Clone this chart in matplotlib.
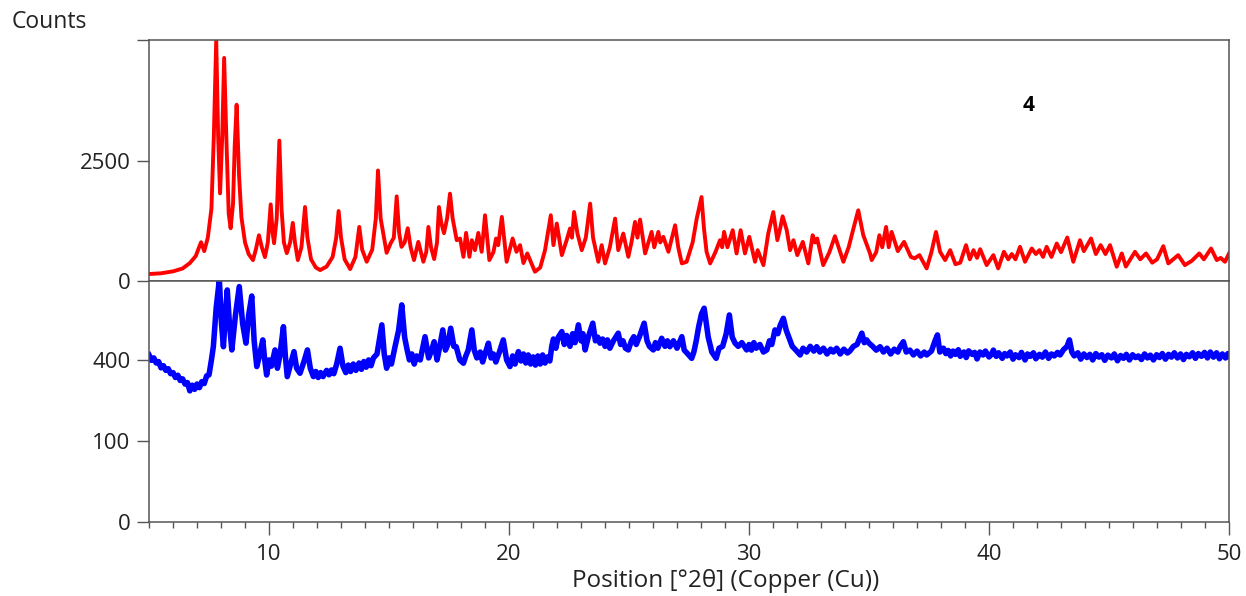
import numpy as np
import matplotlib
matplotlib.use("Agg")
import matplotlib.pyplot as plt
from matplotlib.ticker import MultipleLocator, FixedLocator

plt.rcParams['font.family'] = ['Open Sans', 'DejaVu Sans']

# simulated pattern (red), linear counts
red_pos = [5.0, 5.5, 6.0, 6.4, 6.7, 6.95, 7.1, 7.17, 7.3, 7.45, 7.6, 7.7, 7.8, 7.88, 7.96,
           8.05, 8.13, 8.22, 8.32, 8.4, 8.5, 8.57, 8.65, 8.75, 8.85, 9.0, 9.15, 9.33, 9.45,
           9.58, 9.7, 9.83, 9.95, 10.07, 10.15, 10.21, 10.32, 10.43, 10.52, 10.62, 10.74,
           10.88, 10.99, 11.08, 11.2, 11.35, 11.5, 11.6, 11.75, 11.95, 12.13, 12.4, 12.65,
           12.8, 12.9, 13.0, 13.15, 13.38, 13.6, 13.76, 13.88, 14.07, 14.3, 14.45, 14.54,
           14.65, 14.9, 15.07, 15.2, 15.32, 15.42, 15.52, 15.65, 15.78, 15.9, 16.04, 16.22,
           16.43, 16.55, 16.64, 16.75, 16.88, 17.0, 17.08, 17.18, 17.29, 17.42, 17.54, 17.65,
           17.82, 17.96, 18.1, 18.21, 18.35, 18.45, 18.58, 18.72, 18.86, 19.0, 19.18, 19.35,
           19.46, 19.55, 19.7, 19.9, 20.15, 20.31, 20.46, 20.6, 20.76, 21.08, 21.3, 21.5,
           21.74, 21.85, 21.99, 22.2, 22.4, 22.54, 22.62, 22.71, 22.85, 23.03, 23.2, 23.38,
           23.5, 23.72, 23.86, 24.0, 24.2, 24.42, 24.55, 24.76, 24.97, 25.1, 25.25, 25.35,
           25.46, 25.67, 25.94, 26.05, 26.22, 26.3, 26.43, 26.64, 26.92, 27.05, 27.2, 27.4,
           27.65, 27.82, 28.02, 28.12, 28.23, 28.38, 28.6, 28.79, 28.88, 28.96, 29.1, 29.32,
           29.48, 29.65, 29.83, 30.01, 30.25, 30.36, 30.6, 30.8, 31.01, 31.18, 31.3, 31.4,
           31.57, 31.71, 31.85, 32.01, 32.24, 32.47, 32.65, 32.75, 32.84, 33.09, 33.35, 33.58,
           33.93, 34.15, 34.35, 34.55, 34.76, 35.04, 35.11, 35.3, 35.43, 35.55, 35.71, 35.82,
           35.94, 36.2, 36.46, 36.74, 36.9, 37.1, 37.4, 37.6, 37.79, 37.96, 38.17, 38.38,
           38.6, 38.8, 39.04, 39.2, 39.35, 39.5, 39.63, 39.9, 40.18, 40.38, 40.62, 40.8,
           40.95, 41.1, 41.29, 41.5, 41.78, 41.95, 42.1, 42.25, 42.4, 42.6, 42.82, 43.0,
           43.26, 43.51, 43.79, 43.95, 44.25, 44.45, 44.65, 44.85, 45.04, 45.32, 45.53, 45.7,
           46.08, 46.3, 46.54, 46.8, 47.0, 47.26, 47.47, 47.88, 48.16, 48.45, 48.76, 48.95,
           49.25, 49.49, 49.65, 49.83, 50.0]
red_cnt = [145, 160, 200, 260, 372, 520, 720, 805, 620, 900, 1500, 3000, 5000, 3000, 1818,
           3000, 4628, 3000, 1400, 1095, 1600, 2800, 3657, 2200, 1322, 800, 560, 434, 650,
           950, 700, 496, 800, 1590, 1000, 785, 1300, 2913, 1500, 800, 578,
           800, 1205, 800, 434, 700, 1535, 900, 450, 280, 227, 300, 500,
           900, 1452, 900, 450, 248, 500, 1122, 650, 400, 650, 1300, 2293,
           1300, 585, 785, 900, 1756, 1000, 709, 800, 1095, 700, 434, 812,
           400, 600, 1122, 700, 455, 800, 1535, 1200, 992, 1300, 1812, 1300,
           847, 882, 502, 998, 502, 847, 640, 998, 606, 1364, 434, 600,
           882, 744, 1330, 399, 882, 606, 744, 372, 572, 193, 280, 640,
           1364, 744, 1192, 537, 847, 1089, 900, 1432, 985, 640, 900, 1605,
           900, 399, 744, 365, 700, 1295, 640, 985, 502, 800, 1226, 900,
           1274, 572, 1019, 700, 1019, 800, 916, 606, 1157, 700, 365, 400,
           800, 1295, 1742, 1100, 606, 365, 600, 847, 700, 1019, 700, 1054,
           572, 1054, 572, 916, 399, 640, 330, 985, 1432, 847, 1100, 1343,
           1054, 640, 847, 537, 812, 365, 950, 800, 882, 330, 600, 930,
           399, 700, 1089, 1467, 950, 572, 434, 600, 950, 700, 1122, 700,
           1019, 620, 812, 502, 470, 537, 262, 600, 1019, 606, 434, 640,
           350, 380, 744, 450, 640, 480, 660, 330, 537, 262, 606, 450,
           560, 450, 709, 399, 675, 560, 640, 500, 709, 500, 778, 600,
           902, 399, 847, 620, 882, 560, 744, 560, 744, 296, 572, 300,
           606, 450, 572, 380, 450, 723, 365, 537, 330, 420, 572, 450,
           675, 434, 480, 399, 572]

# measured pattern (blue), square-root counts axis
blue_pos = [5.0, 5.1, 5.2, 5.3, 5.4, 5.5, 5.6, 5.7, 5.8, 5.9, 6.0, 6.1, 6.2, 6.3, 6.4, 6.5,
            6.6, 6.7, 6.8, 6.9, 7.0, 7.1, 7.2, 7.3, 7.4, 7.5, 7.6, 7.68, 7.8, 7.93, 8.02,
            8.1, 8.18, 8.26, 8.35, 8.45, 8.6, 8.76, 8.9, 9.04, 9.15, 9.28, 9.38, 9.49, 9.6,
            9.74, 9.82, 9.9, 10.0, 10.1, 10.25, 10.35, 10.45, 10.6, 10.68, 10.76, 10.9,
            11.04, 11.15, 11.29, 11.45, 11.6, 11.72, 11.85, 11.95, 12.05, 12.15, 12.25, 12.4,
            12.5, 12.6, 12.7, 12.82, 12.96, 13.08, 13.2, 13.3, 13.4, 13.51, 13.62, 13.75,
            13.85, 13.95, 14.05, 14.15, 14.25, 14.35, 14.5, 14.7, 14.8, 14.9, 15.0, 15.1,
            15.25, 15.4, 15.53, 15.65, 15.74, 15.85, 15.95, 16.05, 16.15, 16.3, 16.5, 16.65,
            16.75, 16.88, 17.0, 17.1, 17.24, 17.35, 17.45, 17.57, 17.7, 17.8, 17.95, 18.1,
            18.2, 18.3, 18.45, 18.55, 18.66, 18.8, 18.9, 19.0, 19.14, 19.25, 19.35, 19.45,
            19.6, 19.76, 19.9, 20.04, 20.15, 20.25, 20.39, 20.5, 20.6, 20.7, 20.8, 20.9,
            21.0, 21.1, 21.2, 21.3, 21.4, 21.5, 21.6, 21.7, 21.78, 21.85, 21.95, 22.05, 22.2,
            22.3, 22.4, 22.54, 22.65, 22.75, 22.89, 23.0, 23.08, 23.17, 23.3, 23.49, 23.6,
            23.7, 23.79, 23.9, 24.0, 24.1, 24.2, 24.35, 24.55, 24.65, 24.75, 24.85, 24.97,
            25.1, 25.2, 25.3, 25.45, 25.63, 25.75, 25.85, 26.01, 26.1, 26.2, 26.36, 26.5,
            26.6, 26.7, 26.85, 27.0, 27.2, 27.3, 27.45, 27.61, 27.7, 27.8, 27.9, 28.02,
            28.13, 28.22, 28.3, 28.45, 28.63, 28.75, 28.9, 29.05, 29.18, 29.3, 29.42, 29.55,
            29.7, 29.9, 30.0, 30.1, 30.2, 30.3, 30.45, 30.6, 30.74, 30.85, 30.95, 31.08,
            31.2, 31.3, 31.43, 31.55, 31.7, 31.8, 31.95, 32.13, 32.25, 32.4, 32.55, 32.7,
            32.82, 32.95, 33.1, 33.25, 33.4, 33.51, 33.65, 33.8, 33.95, 34.1, 34.2, 34.35,
            34.5, 34.7, 34.8, 34.9, 35.0, 35.15, 35.3, 35.46, 35.6, 35.75, 35.9, 36.05, 36.2,
            36.3, 36.43, 36.55, 36.7, 36.85, 37.0, 37.15, 37.3, 37.4, 37.6, 37.75, 37.85,
            37.95, 38.1, 38.2, 38.3, 38.4, 38.5, 38.6, 38.72, 38.8, 38.95, 39.05, 39.15,
            39.3, 39.4, 39.5, 39.62, 39.75, 39.85, 40.0, 40.1, 40.18, 40.3, 40.4, 40.55,
            40.65, 40.75, 40.88, 41.0, 41.1, 41.25, 41.35, 41.5, 41.6, 41.72, 41.85, 41.95,
            42.1, 42.22, 42.35, 42.48, 42.6, 42.72, 42.85, 42.96, 43.1, 43.25, 43.35, 43.45,
            43.55, 43.7, 43.82, 43.95, 44.08, 44.2, 44.32, 44.45, 44.58, 44.7, 44.82, 44.95,
            45.1, 45.22, 45.35, 45.48, 45.6, 45.72, 45.85, 45.98, 46.1, 46.22, 46.35, 46.48,
            46.6, 46.72, 46.85, 46.98, 47.1, 47.22, 47.35, 47.48, 47.6, 47.72, 47.85, 47.98,
            48.1, 48.22, 48.35, 48.48, 48.6, 48.72, 48.85, 48.98, 49.1, 49.22, 49.35, 49.48,
            49.6, 49.72, 49.85, 49.95, 50.0]
blue_cnt = [425, 398, 410, 385, 392, 362, 372, 350, 358, 335, 340, 318, 328, 305, 312, 290,
            296, 262, 285, 268, 290, 275, 300, 292, 325, 330, 400, 468, 700, 893, 600,
            468, 650, 820, 600, 451, 650, 844, 600, 487, 650, 778, 500, 368, 420,
            505, 400, 329, 400, 370, 451, 360, 420, 581, 420, 322, 380,
            442, 360, 337, 390, 451, 360, 322, 345, 318, 340, 322, 350,
            330, 352, 335, 380, 460, 370, 340, 375, 345, 380, 350, 385,
            355, 392, 365, 400, 372, 410, 430, 592, 430, 360, 410, 380,
            468, 560, 718, 520, 460, 400, 430, 380, 420, 400, 523, 410,
            440, 495, 400, 460, 562, 450, 480, 572, 470, 468, 400, 384,
            420, 450, 562, 450, 410, 440, 390, 430, 487, 410, 430, 390,
            440, 505, 400, 368, 420, 380, 442, 395, 430, 385, 425, 380,
            415, 375, 420, 380, 425, 385, 415, 395, 470, 510, 460, 520, 552,
            480, 530, 470, 540, 490, 592, 500, 540, 451, 520, 602, 500,
            520, 487, 510, 470, 505, 460, 500, 543, 480, 500, 460, 451,
            500, 523, 480, 530, 602, 500, 470, 451, 490, 460, 514, 470,
            500, 468, 500, 460, 523, 450, 430, 408, 440, 500, 580, 660,
            696, 600, 520, 440, 408, 460, 470, 540, 653, 520, 487, 470,
            490, 451, 480, 450, 490, 460, 480, 440, 451, 500, 480, 562,
            540, 590, 632, 560, 505, 470, 450, 425, 460, 440, 470, 445,
            468, 440, 460, 430, 455, 440, 460, 430, 455, 435, 445, 470,
            480, 543, 490, 505, 487, 470, 450, 468, 440, 460, 430, 455, 440,
            470, 495, 440, 450, 425, 445, 420, 440, 425, 445, 500, 533,
            440, 460, 432, 448, 420, 445, 428, 452, 418, 440, 412, 446,
            428, 438, 405, 440, 425, 445, 415, 428, 450, 418, 436, 408,
            432, 420, 440, 404, 426, 412, 438, 400, 430, 418, 436, 406,
            428, 414, 440, 408, 430, 420, 438, 425, 452, 470, 505, 440,
            420, 436, 404, 430, 412, 428, 400, 432, 414, 426, 398, 424,
            410, 430, 396, 422, 408, 428, 400, 426, 412, 420, 402, 430,
            410, 424, 400, 426, 412, 432, 404, 428, 414, 436, 410, 430,
            402, 428, 416, 436, 408, 432, 418, 438, 410, 440, 414, 436,
            406, 430, 410, 432, 420]

top_ticks = [0, 2500, 5000]
top_labels = ['0', '2500', '']
bottom_ticks = [0, 100, 400]

spine_col = '#555555'
text_col = '#222222'
fs = 16

fig = plt.figure(figsize=(12.46, 5.96), dpi=100)
ax1 = fig.add_axes([0.1196, 0.5285, 0.8668, 0.4044])
ax2 = fig.add_axes([0.1196, 0.1242, 0.8668, 0.4044])

ax1.plot(red_pos, red_cnt, color='#ff0000', lw=2.8, solid_joinstyle='round')
ax2.plot(blue_pos, blue_cnt, color='#0000ff', lw=4.0, solid_joinstyle='round')

ax1.set_xlim(5, 50)
ax1.set_ylim(0, 5000)
ax1.yaxis.set_major_locator(FixedLocator(top_ticks))
ax1.set_yticklabels(top_labels)
ax1.tick_params(axis='x', which='both', bottom=False, labelbottom=False)

sqrt_fwd = lambda v: np.sqrt(np.clip(v, 0, None))
sqrt_inv = lambda v: np.square(v)
ax2.set_yscale('function', functions=(sqrt_fwd, sqrt_inv))
ax2.set_xlim(5, 50)
ax2.set_ylim(0, 885)
ax2.yaxis.set_major_locator(FixedLocator(bottom_ticks))
ax2.set_yticklabels([str(t) for t in bottom_ticks])
ax2.yaxis.set_minor_locator(FixedLocator([]))
ax2.xaxis.set_major_locator(MultipleLocator(10))
ax2.xaxis.set_minor_locator(MultipleLocator(1))

for ax in (ax1, ax2):
    for sp in ax.spines.values():
        sp.set_color(spine_col)
        sp.set_linewidth(1.1)
    ax.tick_params(axis='y', which='major', length=8.5, width=1.0, color=spine_col,
                   labelsize=fs, labelcolor=text_col, pad=5)
    ax.tick_params(axis='y', which='minor', length=0)

ax2.tick_params(axis='x', which='major', length=9.5, width=1.0, color=spine_col,
                labelsize=fs, labelcolor=text_col, pad=6)
ax2.tick_params(axis='x', which='minor', length=4, width=1.0, color=spine_col)

ax1.text(41.65, 3650, '4', ha='center', va='center', fontsize=15, fontweight='bold',
         color='black')

fig.text(0.0096, 0.963, 'Counts', ha='left', va='center', fontsize=16.5, color=text_col)
fig.text(0.5827, 0.025, 'Position [°2θ] (Copper (Cu))', ha='center', va='center',
         fontsize=17.5, color=text_col)

fig.savefig('out.png', dpi=100)
